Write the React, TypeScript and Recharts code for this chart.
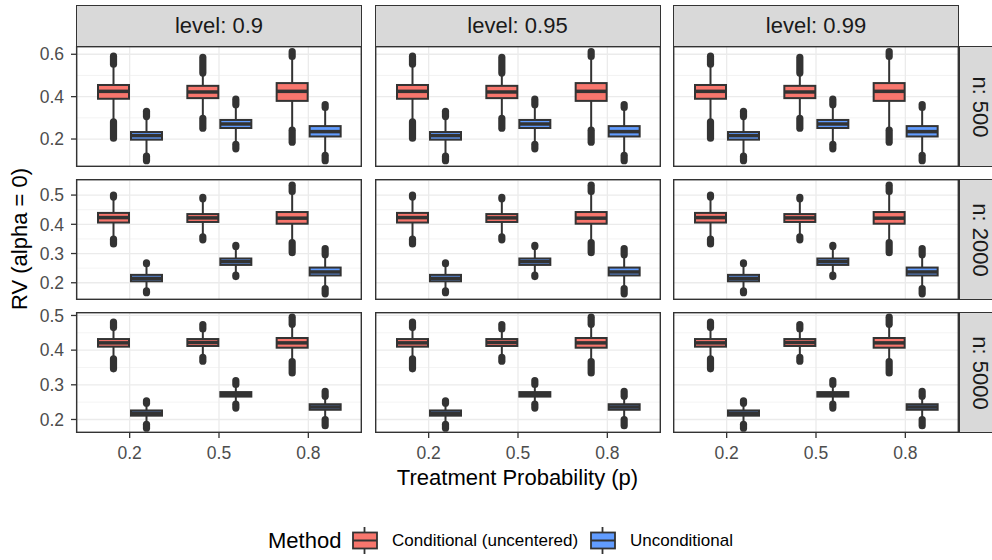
import React from 'react';
import { ComposedChart, Bar, XAxis, YAxis, CartesianGrid } from 'recharts';

const P_LEVELS = ['0.2', '0.5', '0.8'];
const CONF_LEVELS = ['0.9', '0.95', '0.99'];
const SAMPLE_SIZES = ['500', '2000', '5000'];

// per p: [low outliers from, low outliers to (whisker end), q1, median, q3, high outliers from (whisker end), high outliers to]
const COND_500 = [
  [0.204, 0.281, 0.39, 0.425, 0.455, 0.553, 0.591],
  [0.251, 0.297, 0.393, 0.422, 0.451, 0.511, 0.585],
  [0.185, 0.242, 0.38, 0.425, 0.464, 0.59, 0.612],
];
const UNCOND_500 = [
  [0.098, 0.119, 0.197, 0.216, 0.233, 0.306, 0.331],
  [0.154, 0.175, 0.252, 0.271, 0.29, 0.362, 0.388],
  [0.098, 0.123, 0.212, 0.235, 0.261, 0.349, 0.363],
];
const COND_2000 = [
  [0.333, 0.349, 0.406, 0.423, 0.439, 0.493, 0.5],
  [0.347, 0.357, 0.408, 0.422, 0.435, 0.487, 0.492],
  [0.303, 0.337, 0.402, 0.421, 0.442, 0.512, 0.534],
];
const UNCOND_2000 = [
  [0.166, 0.172, 0.205, 0.215, 0.227, 0.265, 0.268],
  [0.221, 0.226, 0.261, 0.272, 0.283, 0.324, 0.328],
  [0.162, 0.18, 0.225, 0.237, 0.252, 0.296, 0.317],
];
const COND_5000 = [
  [0.346, 0.375, 0.41, 0.421, 0.432, 0.465, 0.481],
  [0.368, 0.379, 0.412, 0.422, 0.432, 0.461, 0.474],
  [0.334, 0.367, 0.407, 0.421, 0.435, 0.475, 0.495],
];
const UNCOND_5000 = [
  [0.175, 0.186, 0.211, 0.218, 0.226, 0.247, 0.254],
  [0.233, 0.244, 0.266, 0.272, 0.279, 0.301, 0.312],
  [0.182, 0.2, 0.228, 0.236, 0.244, 0.267, 0.281],
];

const COND_BY_N = [COND_500, COND_2000, COND_5000];
const UNCOND_BY_N = [UNCOND_500, UNCOND_2000, UNCOND_5000];

const Y_DOMAINS = [
  [0.068, 0.639],
  [0.141, 0.555],
  [0.161, 0.51],
];
const Y_TICKS = [
  [0.2, 0.4, 0.6],
  [0.2, 0.3, 0.4, 0.5],
  [0.2, 0.3, 0.4, 0.5],
];
const Y_MINOR = [
  [0.1, 0.3, 0.5],
  [0.15, 0.25, 0.35, 0.45, 0.55],
  [0.25, 0.35, 0.45],
];

const RED = '#F8766D';
const BLUE = '#619CFF';
const DARK = '#333333';
const GRID = '#EBEBEB';
const FONT = '"Liberation Sans", Arial, sans-serif';

const COL_X = [76, 374.5, 673];
const ROW_Y = [46, 179, 312];
const PW = 286;
const PH = 121;
const YW = 76;
const TOP_PAD = 10;

function BoxGlyph(props: any) {
  const { x, y, width, height, payload, statsKey, boxFill } = props;
  const s: number[] = payload[statsKey];
  const top = Math.min(y, y + height);
  const bottom = Math.max(y, y + height);
  const lo = s[0];
  const hi = s[6];
  // bar spans [lo, hi] on the y scale, so the scale is linear between those two pixels
  const py = (v: number) => bottom - ((v - lo) / (hi - lo)) * (bottom - top);
  const cx = x + width / 2;
  const bx = x + 1;
  const bw = width - 2;
  const r = 3.6;
  return (
    <g>
      <line x1={cx} x2={cx} y1={py(s[1])} y2={py(s[2])} stroke={DARK} strokeWidth={2} />
      <line x1={cx} x2={cx} y1={py(s[4])} y2={py(s[5])} stroke={DARK} strokeWidth={2} />
      <rect x={cx - r} y={py(s[1]) - r} width={2 * r} height={py(s[0]) - py(s[1]) + 2 * r} rx={r} fill={DARK} />
      <rect x={cx - r} y={py(s[6]) - r} width={2 * r} height={py(s[5]) - py(s[6]) + 2 * r} rx={r} fill={DARK} />
      <rect x={bx} y={py(s[4])} width={bw} height={py(s[2]) - py(s[4])} fill={boxFill} stroke={DARK} strokeWidth={2} />
      <line x1={bx} x2={bx + bw} y1={py(s[3])} y2={py(s[3])} stroke={DARK} strokeWidth={3.5} />
    </g>
  );
}

function Panel({ row, col }: { row: number; col: number }) {
  const left = col === 0;
  const bottom = row === 2;
  const cond = COND_BY_N[row];
  const uncond = UNCOND_BY_N[row];
  const data = P_LEVELS.map((p, i) => ({
    p,
    cond: [cond[i][0], cond[i][6]],
    uncond: [uncond[i][0], uncond[i][6]],
    condStats: cond[i],
    uncondStats: uncond[i],
  }));
  const w = PW + (left ? YW : 0);
  const h = TOP_PAD + PH + (bottom ? 40 : 0);
  return (
    <div style={{ position: 'absolute', left: COL_X[col] - (left ? YW : 0), top: ROW_Y[row] - TOP_PAD, width: w, height: h }}>
      <ComposedChart width={w} height={h} data={data} margin={{ top: TOP_PAD, right: 0, bottom: 0, left: 0 }} barSize={33} barGap={0}>
        <CartesianGrid stroke={GRID} strokeWidth={0.6} vertical={false} horizontalValues={Y_MINOR[row]} />
        <CartesianGrid stroke={GRID} strokeWidth={1.3} horizontalValues={Y_TICKS[row]} />
        <XAxis
          dataKey="p"
          type="category"
          hide={!bottom}
          height={40}
          padding={{ left: 9, right: 9 }}
          axisLine={false}
          tickSize={5}
          tickMargin={9}
          tickLine={{ stroke: DARK, strokeWidth: 1.3 }}
          tick={{ fill: '#4D4D4D', fontSize: 17.5 }}
        />
        <YAxis
          type="number"
          hide={!left}
          width={YW}
          domain={Y_DOMAINS[row]}
          ticks={Y_TICKS[row]}
          allowDataOverflow
          axisLine={false}
          tickSize={5}
          tickMargin={7}
          tickLine={{ stroke: DARK, strokeWidth: 1.3 }}
          tick={{ fill: '#4D4D4D', fontSize: 17.5 }}
          tickFormatter={(v: number) => v.toFixed(1)}
        />
        <Bar
          dataKey="cond"
          fill={RED}
          isAnimationActive={false}
          shape={(p: any) => <BoxGlyph {...p} statsKey="condStats" boxFill={RED} />}
        />
        <Bar
          dataKey="uncond"
          fill={BLUE}
          isAnimationActive={false}
          shape={(p: any) => <BoxGlyph {...p} statsKey="uncondStats" boxFill={BLUE} />}
        />
      </ComposedChart>
      <svg
        style={{ position: 'absolute', left: left ? YW : 0, top: TOP_PAD, pointerEvents: 'none' }}
        width={PW}
        height={PH}
      >
        <rect x={0.7} y={0.7} width={PW - 1.4} height={PH - 1.4} fill="none" stroke={DARK} strokeWidth={1.4} />
      </svg>
    </div>
  );
}

function LegendKey({ fill, left }: { fill: string; left: number }) {
  return (
    <svg style={{ position: 'absolute', left, top: 527 }} width={26} height={27}>
      <line x1={12.5} x2={12.5} y1={0} y2={6} stroke={DARK} strokeWidth={1.8} />
      <line x1={12.5} x2={12.5} y1={21} y2={27} stroke={DARK} strokeWidth={1.8} />
      <rect x={1} y={5.5} width={24} height={16} fill={fill} stroke={DARK} strokeWidth={1.8} />
      <line x1={1} x2={25} y1={13.5} y2={13.5} stroke={DARK} strokeWidth={2} />
    </svg>
  );
}

const stripStyle: React.CSSProperties = {
  position: 'absolute',
  background: '#D9D9D9',
  border: `1px solid ${DARK}`,
  boxSizing: 'border-box',
  display: 'flex',
  alignItems: 'center',
  justifyContent: 'center',
  color: '#1A1A1A',
  fontSize: 22,
  whiteSpace: 'nowrap',
};

export default function App() {
  return (
    <div
      style={{
        position: 'fixed',
        left: 0,
        top: 0,
        width: 992,
        height: 560,
        overflow: 'hidden',
        background: '#fff',
        fontFamily: FONT,
      }}
    >
      {CONF_LEVELS.map((lv, c) => (
        <div key={lv} style={{ ...stripStyle, left: COL_X[c], top: 5, width: PW, height: 42 }}>
          {`level: ${lv}`}
        </div>
      ))}
      {SAMPLE_SIZES.map((n, r) => (
        <div key={n} style={{ ...stripStyle, left: 959, top: ROW_Y[r], width: 41, height: PH }}>
          <span style={{ transform: 'rotate(90deg)', display: 'inline-block' }}>{`n: ${n}`}</span>
        </div>
      ))}
      {[0, 1, 2].map((r) =>
        [0, 1, 2].map((c) => <Panel key={`${r}-${c}`} row={r} col={c} />)
      )}
      <div
        style={{
          position: 'absolute',
          left: 20,
          top: 239,
          transform: 'translate(-50%, -50%) rotate(-90deg)',
          fontSize: 22,
          whiteSpace: 'nowrap',
          color: '#000',
        }}
      >
        RV (alpha = 0)
      </div>
      <div
        style={{
          position: 'absolute',
          left: 517.5,
          top: 478,
          transform: 'translate(-50%, -50%)',
          fontSize: 22,
          whiteSpace: 'nowrap',
          color: '#000',
        }}
      >
        Treatment Probability (p)
      </div>
      <div style={{ position: 'absolute', left: 268, top: 541, transform: 'translateY(-50%)', fontSize: 22, color: '#000' }}>
        Method
      </div>
      <LegendKey fill={RED} left={352} />
      <div style={{ position: 'absolute', left: 392, top: 541, transform: 'translateY(-50%)', fontSize: 17, color: '#000', whiteSpace: 'nowrap' }}>
        Conditional (uncentered)
      </div>
      <LegendKey fill={BLUE} left={590} />
      <div style={{ position: 'absolute', left: 630, top: 541, transform: 'translateY(-50%)', fontSize: 17, color: '#000', whiteSpace: 'nowrap' }}>
        Unconditional
      </div>
    </div>
  );
}
